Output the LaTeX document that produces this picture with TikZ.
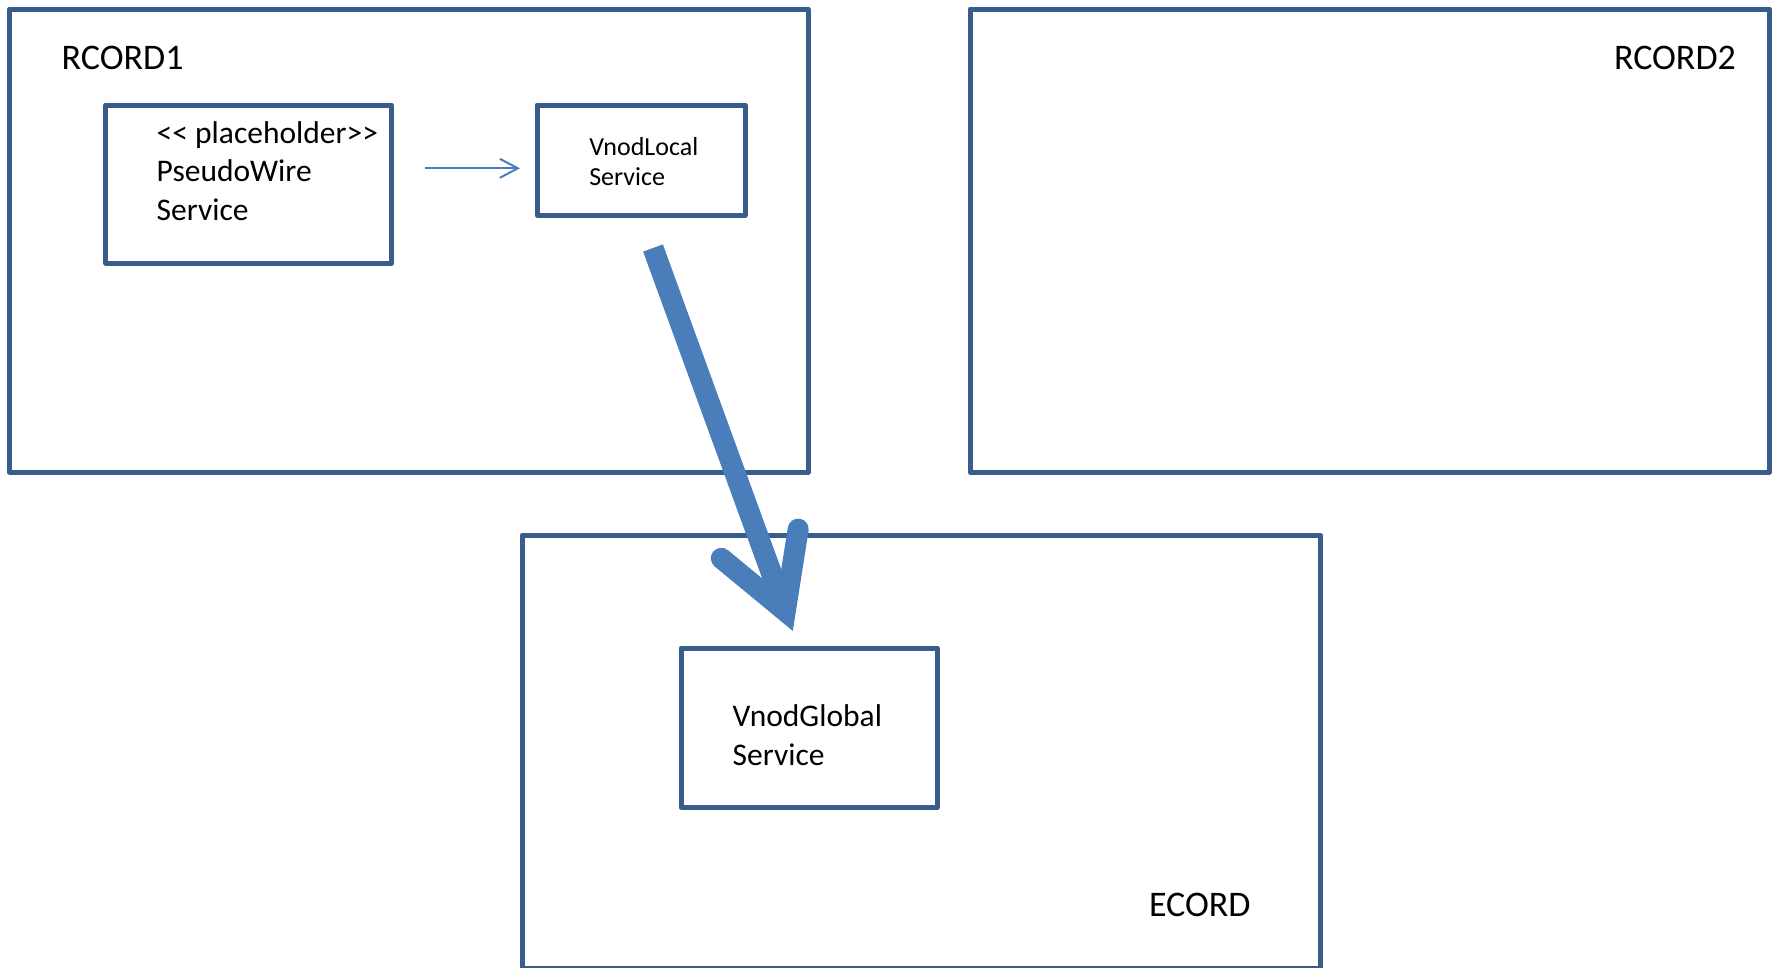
\documentclass[tikz,border=0pt]{standalone}
\usepackage{fontspec}
\setmainfont{Carlito}
\usetikzlibrary{arrows.meta}
\definecolor{boxblue}{HTML}{385D8A}
\definecolor{arrowblue}{HTML}{4A7EBB}
\begin{document}
\begin{tikzpicture}[x=1pt,y=-1pt,
  frame/.style={draw=boxblue, line width=5pt, rectangle, inner sep=0pt, outer sep=0pt, line join=round},
  lbl/.style={anchor=base west, inner sep=0pt, outer sep=0pt, text=black},
  titlefont/.style={font=\fontsize{36}{43}\selectfont},
  bigfont/.style={font=\fontsize{31.5}{38.5}\selectfont},
  smallfont/.style={font=\fontsize{26}{30.7}\selectfont},
  thinarrow/.style={draw=arrowblue, line width=2pt, -{Straight Barb[length=18pt,width=19pt]}},
  bigline/.style={draw=arrowblue, line width=21pt}]
\useasboundingbox (0,0) rectangle (1773,967);
\fill[white] (0,0) rectangle (1773,967);

% outer frames
\node[frame, minimum width=798.5pt, minimum height=463pt] (rc1) at (408.75,240.5) {};
\node[frame, minimum width=799.5pt, minimum height=463pt] (rc2) at (1369.75,240.5) {};
\node[frame, minimum width=798.5pt, minimum height=432.5pt] (ec) at (921.25,751.75) {};

% inner boxes
\node[frame, minimum width=285.9pt, minimum height=158.2pt] (pw) at (248.75,184.1) {};
\node[frame, minimum width=208pt, minimum height=110pt] (vl) at (641,160) {};
\node[frame, minimum width=256pt, minimum height=159.5pt] (vg) at (809,727.75) {};

% labels
\node[lbl, titlefont] (trc1) at (61.7,69.3) {RCORD1};
\node[lbl, titlefont] (trc2) at (1614,69.3) {RCORD2};
\node[lbl, titlefont] (tec) at (1149,916) {ECORD};
\node[lbl, bigfont] (tpw) at (156.7,143.3) {\begin{tabular}[t]{@{}l@{}}<{}< placeholder>{}>\\PseudoWire\\Service\end{tabular}};
\node[lbl, smallfont] (tvl) at (589.3,155) {\begin{tabular}[t]{@{}l@{}}VnodLocal\\Service\end{tabular}};
\node[lbl, bigfont] (tvg) at (732.7,726.7) {\begin{tabular}[t]{@{}l@{}}VnodGlobal\\Service\end{tabular}};

% small arrow pw -> vl
\coordinate (sa1) at (425,168.3);
\coordinate (sa2) at (520,168.3);
\draw[thinarrow] (sa1) -- (sa2);

% big arrow vl -> vg
\coordinate (bs) at (653,248);
\coordinate (bv) at (785.3,611.1);
\coordinate (bwl) at (721.3,558.3);
\coordinate (bwr) at (798.2,529.1);
\draw[bigline, line cap=butt] (bs) -- (bv);
\draw[bigline, line cap=round, line join=miter] (bwl) -- (bv) -- (bwr);
\end{tikzpicture}
\end{document}
